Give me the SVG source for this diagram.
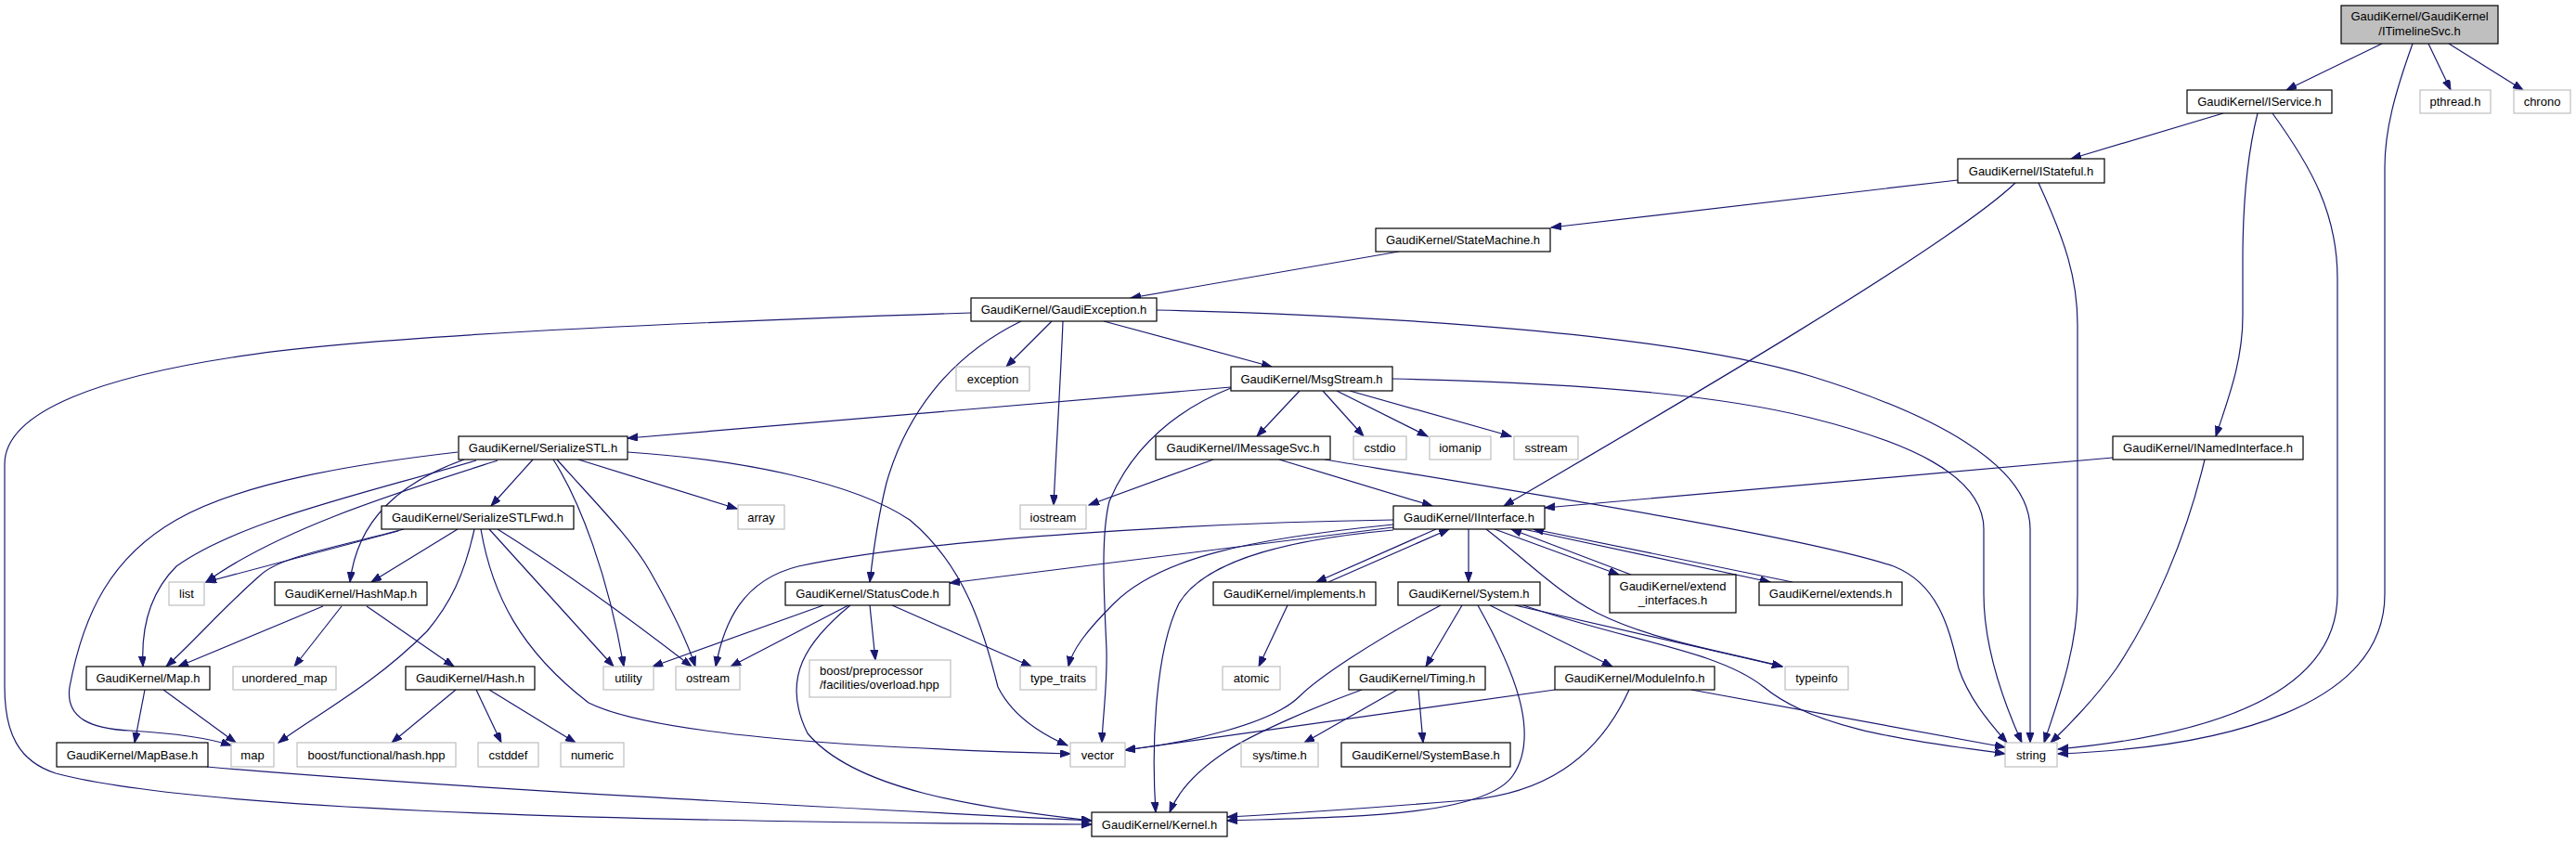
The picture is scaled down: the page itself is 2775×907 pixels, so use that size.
<svg xmlns="http://www.w3.org/2000/svg" width="2775" height="907" viewBox="0 0 2775 907">
<defs>
<style>
.n rect{fill:#fff;stroke:#000;stroke-width:1.2}
.x rect{fill:#fff;stroke:#bfbfbf;stroke-width:1.2}
.root rect{fill:#bfbfbf;stroke:#000;stroke-width:1.2}
text{font-family:"Liberation Sans",Arial,sans-serif;font-size:13px;fill:#000;text-anchor:middle}
.e path{fill:none;stroke:#191970;stroke-width:1.2;marker-end:url(#ah)}
</style>
<marker id="ah" markerUnits="userSpaceOnUse" markerWidth="12" markerHeight="9" refX="11" refY="4" orient="auto">
<path d="M0,0 L11,4 L0,8 z" fill="#191970" stroke="#191970" stroke-width="1"/>
</marker>
</defs>
<rect width="2775" height="907" fill="#fff"/>
<g class="e" id="edges">
<path d="M2566,47 L2463,97"/>
<path d="M2599,47 C2580,100 2569,140 2569,180 L2569,640 C2569,760 2400,805 2217,812"/>
<path d="M2616,47 L2640,97"/>
<path d="M2638,47 L2718,97"/>
<path d="M2395,122 L2231,171"/>
<path d="M2432,122 C2420,170 2416,220 2416,280 L2416,340 C2416,390 2400,430 2387,470"/>
<path d="M2448,122 C2490,180 2518,230 2518,300 L2518,640 C2518,740 2400,790 2217,807"/>
<path d="M2109,194 L1671,245"/>
<path d="M2171,197 C2100,265 1800,440 1620,545"/>
<path d="M2196,197 C2225,260 2238,300 2238,350 L2238,640 C2238,700 2215,760 2202,800"/>
<path d="M1507,271 L1218,321"/>
<path d="M1046,337 C800,345 400,360 250,385 C120,405 5,440 5,500 L5,740 C5,790 20,820 60,833 C200,870 600,885 1176,888"/>
<path d="M1246,334 C1500,340 1800,360 1950,405 C2080,445 2187,500 2187,570 L2187,800"/>
<path d="M1133,346 L1084,395"/>
<path d="M1145,346 C1143,400 1138,480 1135,544"/>
<path d="M1189,346 L1370,395"/>
<path d="M1100,346 C1020,385 975,450 955,520 C945,560 940,600 937,627"/>
<path d="M1326,417 L676,472"/>
<path d="M1400,421 L1354,470"/>
<path d="M1425,421 L1469,470"/>
<path d="M1440,421 L1538,470"/>
<path d="M1454,421 L1628,470"/>
<path d="M1326,418 C1270,440 1220,480 1195,540 C1185,580 1190,650 1192,700 C1193,740 1188,770 1187,800"/>
<path d="M1500,408 C1700,412 1850,425 1950,450 C2050,475 2137,510 2137,570 L2137,640 C2137,700 2160,760 2178,800"/>
<path d="M1307,495 L1173,544"/>
<path d="M1378,495 L1543,545"/>
<path d="M1427,495 C1700,540 1950,580 2040,610 C2090,630 2100,680 2110,720 C2120,750 2140,775 2162,800"/>
<path d="M2276,493 L1664,547"/>
<path d="M2375,495 C2355,580 2320,660 2280,720 C2255,755 2230,780 2209,800"/>
<path d="M574,495 L529,545"/>
<path d="M536,496 C430,530 300,570 222,627"/>
<path d="M500,495 C430,520 385,560 377,627"/>
<path d="M513,496 C400,530 260,560 190,610 C160,640 152,680 154,718"/>
<path d="M493,487 C380,500 260,520 190,560 C120,600 90,660 75,740 C70,775 100,785 140,787 C190,790 225,795 249,803"/>
<path d="M596,495 C625,540 655,620 672,718"/>
<path d="M600,495 C640,540 680,580 700,615 C720,650 740,690 749,718"/>
<path d="M623,495 L794,548"/>
<path d="M676,487 C800,495 920,520 980,560 C1040,610 1060,680 1075,740 C1090,770 1120,790 1150,803"/>
<path d="M429,572 L222,627"/>
<path d="M493,570 L400,627"/>
<path d="M435,570 C360,590 300,600 280,620 C240,655 210,690 179,718"/>
<path d="M511,570 C500,620 485,650 460,680 C400,740 340,770 300,800"/>
<path d="M527,570 L661,718"/>
<path d="M536,570 C600,610 670,660 745,718"/>
<path d="M518,570 C530,640 560,700 634,757 C700,790 900,805 1153,812"/>
<path d="M348,653 L192,718"/>
<path d="M368,653 L317,718"/>
<path d="M395,653 L489,718"/>
<path d="M156,743 L145,800"/>
<path d="M176,743 L254,800"/>
<path d="M491,743 L422,800"/>
<path d="M513,743 L540,800"/>
<path d="M527,743 L620,800"/>
<path d="M223,826 C500,850 900,870 1176,884"/>
<path d="M1501,568 L1023,628"/>
<path d="M1501,560 C1300,563 1000,580 860,610 C800,625 780,670 771,718"/>
<path d="M1501,565 C1350,580 1250,600 1200,650 C1170,680 1155,700 1151,718"/>
<path d="M1501,571 C1400,580 1300,600 1270,650 C1245,700 1240,800 1245,875"/>
<path d="M1547,570 L1418,627"/>
<path d="M1431,627 L1561,570"/>
<path d="M1582,570 L1582,627"/>
<path d="M1601,570 C1640,600 1680,640 1720,660 C1780,690 1850,700 1920,718"/>
<path d="M1610,570 L1744,619"/>
<path d="M1757,619 L1628,570"/>
<path d="M1641,570 L1907,627"/>
<path d="M1931,627 L1652,570"/>
<path d="M1387,652 L1356,718"/>
<path d="M1575,652 L1536,718"/>
<path d="M1605,652 L1737,718"/>
<path d="M1592,652 C1630,720 1660,790 1630,835 C1600,880 1450,880 1322,884"/>
<path d="M1552,652 C1480,690 1420,730 1400,750 C1370,780 1280,800 1212,808"/>
<path d="M1632,652 L1920,718"/>
<path d="M1641,652 C1750,690 1850,700 1900,740 C1960,790 2080,800 2160,812"/>
<path d="M1467,743 C1420,760 1350,790 1320,810 C1290,830 1270,850 1260,875"/>
<path d="M1505,743 L1405,800"/>
<path d="M1528,743 L1533,800"/>
<path d="M1675,743 L1212,808"/>
<path d="M1755,743 C1720,820 1660,855 1580,862 C1480,870 1400,876 1322,880"/>
<path d="M1822,743 L2160,805"/>
<path d="M887,652 L703,718"/>
<path d="M914,652 L787,718"/>
<path d="M916,652 C870,690 840,730 870,790 C920,850 1050,870 1176,884"/>
<path d="M937,652 L943,711"/>
<path d="M961,652 L1111,718"/>
</g>
<g id="ITimelineSvc" class="root"><rect x="2522" y="6" width="169" height="41"/><text x="2606.5" y="22">GaudiKernel/GaudiKernel</text><text x="2606.5" y="38">/ITimelineSvc.h</text></g>
<g id="IService" class="n"><rect x="2356" y="97" width="156" height="25"/><text x="2434" y="114">GaudiKernel/IService.h</text></g>
<g id="pthread" class="x"><rect x="2607" y="97" width="76" height="25"/><text x="2645" y="114">pthread.h</text></g>
<g id="chrono" class="x"><rect x="2708" y="97" width="61" height="25"/><text x="2738.5" y="114">chrono</text></g>
<g id="IStateful" class="n"><rect x="2109" y="171" width="158" height="26"/><text x="2188" y="188.5">GaudiKernel/IStateful.h</text></g>
<g id="StateMachine" class="n"><rect x="1482" y="246" width="188" height="25"/><text x="1576" y="263">GaudiKernel/StateMachine.h</text></g>
<g id="GaudiException" class="n"><rect x="1046" y="321" width="200" height="25"/><text x="1146" y="338">GaudiKernel/GaudiException.h</text></g>
<g id="exception" class="x"><rect x="1030" y="395" width="79" height="26"/><text x="1069.5" y="412.5">exception</text></g>
<g id="MsgStream" class="n"><rect x="1326" y="395" width="174" height="26"/><text x="1413" y="412.5">GaudiKernel/MsgStream.h</text></g>
<g id="SerializeSTL" class="n"><rect x="494" y="470" width="182" height="25"/><text x="585" y="487">GaudiKernel/SerializeSTL.h</text></g>
<g id="IMessageSvc" class="n"><rect x="1245" y="470" width="188" height="25"/><text x="1339" y="487">GaudiKernel/IMessageSvc.h</text></g>
<g id="cstdio" class="x"><rect x="1458" y="470" width="57" height="25"/><text x="1486.5" y="487">cstdio</text></g>
<g id="iomanip" class="x"><rect x="1540" y="470" width="66" height="25"/><text x="1573" y="487">iomanip</text></g>
<g id="sstream" class="x"><rect x="1631" y="470" width="69" height="25"/><text x="1665.5" y="487">sstream</text></g>
<g id="INamedInterface" class="n"><rect x="2276" y="470" width="205" height="25"/><text x="2378.5" y="487">GaudiKernel/INamedInterface.h</text></g>
<g id="SerializeSTLFwd" class="n"><rect x="411" y="545" width="207" height="25"/><text x="514.5" y="562">GaudiKernel/SerializeSTLFwd.h</text></g>
<g id="array" class="x"><rect x="795" y="544" width="50" height="26"/><text x="820" y="561.5">array</text></g>
<g id="iostream" class="x"><rect x="1099" y="544" width="71" height="26"/><text x="1134.5" y="561.5">iostream</text></g>
<g id="IInterface" class="n"><rect x="1501" y="545" width="163" height="25"/><text x="1582.5" y="562">GaudiKernel/IInterface.h</text></g>
<g id="list" class="x"><rect x="182" y="627" width="38" height="25"/><text x="201" y="644">list</text></g>
<g id="HashMap" class="n"><rect x="296" y="627" width="164" height="25"/><text x="378" y="644">GaudiKernel/HashMap.h</text></g>
<g id="StatusCode" class="n"><rect x="846" y="627" width="177" height="25"/><text x="934.5" y="644">GaudiKernel/StatusCode.h</text></g>
<g id="implements" class="n"><rect x="1307" y="627" width="175" height="25"/><text x="1394.5" y="644">GaudiKernel/implements.h</text></g>
<g id="System" class="n"><rect x="1506" y="627" width="153" height="25"/><text x="1582.5" y="644">GaudiKernel/System.h</text></g>
<g id="extend_interfaces" class="n"><rect x="1734" y="619" width="136" height="41"/><text x="1802" y="636">GaudiKernel/extend</text><text x="1802" y="651">_interfaces.h</text></g>
<g id="extends" class="n"><rect x="1895" y="627" width="154" height="25"/><text x="1972" y="644">GaudiKernel/extends.h</text></g>
<g id="Map" class="n"><rect x="93" y="718" width="133" height="25"/><text x="159.5" y="735">GaudiKernel/Map.h</text></g>
<g id="unordered_map" class="x"><rect x="251" y="718" width="111" height="25"/><text x="306.5" y="735">unordered_map</text></g>
<g id="Hash" class="n"><rect x="437" y="718" width="139" height="25"/><text x="506.5" y="735">GaudiKernel/Hash.h</text></g>
<g id="utility" class="x"><rect x="650" y="718" width="54" height="25"/><text x="677" y="735">utility</text></g>
<g id="ostream" class="x"><rect x="728" y="718" width="69" height="25"/><text x="762.5" y="735">ostream</text></g>
<g id="boost_preprocessor" class="x"><rect x="872" y="711" width="152" height="40"/><text x="883" y="727" style="text-anchor:start">boost/preprocessor</text><text x="883" y="742" style="text-anchor:start">/facilities/overload.hpp</text></g>
<g id="type_traits" class="x"><rect x="1099" y="718" width="82" height="25"/><text x="1140" y="735">type_traits</text></g>
<g id="atomic" class="x"><rect x="1317" y="718" width="62" height="25"/><text x="1348" y="735">atomic</text></g>
<g id="Timing" class="n"><rect x="1453" y="718" width="147" height="25"/><text x="1526.5" y="735">GaudiKernel/Timing.h</text></g>
<g id="ModuleInfo" class="n"><rect x="1675" y="718" width="172" height="25"/><text x="1761" y="735">GaudiKernel/ModuleInfo.h</text></g>
<g id="typeinfo" class="x"><rect x="1923" y="718" width="68" height="25"/><text x="1957" y="735">typeinfo</text></g>
<g id="MapBase" class="n"><rect x="61" y="800" width="163" height="26"/><text x="142.5" y="817.5">GaudiKernel/MapBase.h</text></g>
<g id="map" class="x"><rect x="249" y="800" width="46" height="26"/><text x="272" y="817.5">map</text></g>
<g id="boost_hash" class="x"><rect x="320" y="800" width="171" height="26"/><text x="405.5" y="817.5">boost/functional/hash.hpp</text></g>
<g id="cstddef" class="x"><rect x="515" y="800" width="65" height="26"/><text x="547.5" y="817.5">cstddef</text></g>
<g id="numeric" class="x"><rect x="604" y="800" width="68" height="26"/><text x="638" y="817.5">numeric</text></g>
<g id="vector" class="x"><rect x="1153" y="800" width="59" height="26"/><text x="1182.5" y="817.5">vector</text></g>
<g id="sys_time" class="x"><rect x="1337" y="800" width="83" height="26"/><text x="1378.5" y="817.5">sys/time.h</text></g>
<g id="SystemBase" class="n"><rect x="1445" y="800" width="182" height="26"/><text x="1536" y="817.5">GaudiKernel/SystemBase.h</text></g>
<g id="string" class="x"><rect x="2160" y="800" width="56" height="26"/><text x="2188" y="817.5">string</text></g>
<g id="Kernel" class="n"><rect x="1176" y="875" width="146" height="26"/><text x="1249" y="892.5">GaudiKernel/Kernel.h</text></g>
</svg>
